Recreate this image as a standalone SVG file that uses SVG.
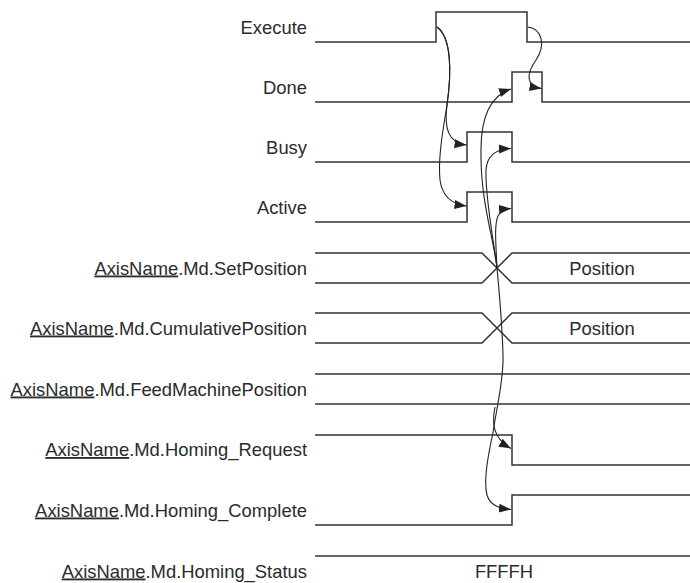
<svg xmlns="http://www.w3.org/2000/svg" width="690" height="583" viewBox="0 0 690 583">
<style>
.lbl{font-family:"Liberation Sans",Arial,sans-serif;font-size:18.4px;fill:#2b2b2b;text-anchor:end}
.val{font-family:"Liberation Sans",Arial,sans-serif;font-size:18.4px;fill:#2b2b2b;text-anchor:middle}
.u{text-decoration:underline}
.sig{fill:none;stroke:#333;stroke-width:1.5}
.arr{fill:none;stroke:#222;stroke-width:1.1;marker-end:url(#ah)}
</style>
<defs>
<marker id="ah" markerUnits="userSpaceOnUse" markerWidth="13" markerHeight="11" refX="12" refY="5" orient="auto">
<path d="M0,0.5 L12,5 L0,9.5 z" fill="#222"/>
</marker>
</defs>
<rect width="690" height="583" fill="#fff"/>
<g id="execute"><text class="lbl" x="307" y="33.5">Execute</text><path class="sig" d="M315,42 H436 V12 H527 V42 H690"/></g>
<g id="done"><text class="lbl" x="307" y="93.5">Done</text><path class="sig" d="M315,102 H512 V72 H542 V102 H690"/></g>
<g id="busy"><text class="lbl" x="307" y="153.5">Busy</text><path class="sig" d="M315,162 H467 V132 H512 V162 H690"/></g>
<g id="active"><text class="lbl" x="307" y="213.5">Active</text><path class="sig" d="M315,222 H467 V192 H512 V222 H690"/></g>
<g id="setposition"><text class="lbl" x="307" y="274.5"><tspan class="u">AxisName</tspan>.Md.SetPosition</text><path class="sig" d="M315,253 H482 L512,283 H690 M315,283 H482 L512,253 H690"/><text class="val" x="602" y="274.5">Position</text></g>
<g id="cumulativeposition"><text class="lbl" x="307" y="334.5"><tspan class="u">AxisName</tspan>.Md.CumulativePosition</text><path class="sig" d="M315,313 H482 L512,343 H690 M315,343 H482 L512,313 H690"/><text class="val" x="602" y="334.5">Position</text></g>
<g id="feedmachineposition"><text class="lbl" x="307" y="395.5"><tspan class="u">AxisName</tspan>.Md.FeedMachinePosition</text><path class="sig" d="M315,374 H690 M315,404 H690"/></g>
<g id="homing_request"><text class="lbl" x="307" y="456"><tspan class="u">AxisName</tspan>.Md.Homing_Request</text><path class="sig" d="M315,435 H512 V465 H690"/></g>
<g id="homing_complete"><text class="lbl" x="307" y="516.5"><tspan class="u">AxisName</tspan>.Md.Homing_Complete</text><path class="sig" d="M315,525 H512 V495 H690"/></g>
<g id="homing_status"><text class="lbl" x="307" y="577.5"><tspan class="u">AxisName</tspan>.Md.Homing_Status</text><path class="sig" d="M315,556 H690"/><text class="val" x="504" y="577.5">FFFFH</text></g>
<g id="connectors">
<path class="arr" d="M437,27 C451,37 452,70 447,105 C444,128 448,143 466.5,145"/>
<path class="arr" d="M437,27 C451,37 452,70 447,105 C442,135 438,160 440,180 C442,195 450,204 466.5,206"/>
<path class="arr" d="M528,27 C542,29 546,45 536,60 C526,74 526,86 541.5,88.5"/>
<path class="arr" d="M493,433 C496,410 504,380 503,355 C502,320 499,290 497,268 C494,240 480,200 481,150 C481,115 492,95 511,89"/>
<path class="arr" d="M497,268 C492,230 485,195 486,170 C487,155 496,149 511,148.5"/>
<path class="arr" d="M497,268 C496,245 494,225 498,216 C501,211 505,209 511,208.5"/>
<path class="arr" d="M495,407 C492,422 492,438 511,448.5"/>
<path class="arr" d="M493,433 C488,455 483,480 487,495 C490,505 498,508 511,509.5"/>
</g>
</svg>
